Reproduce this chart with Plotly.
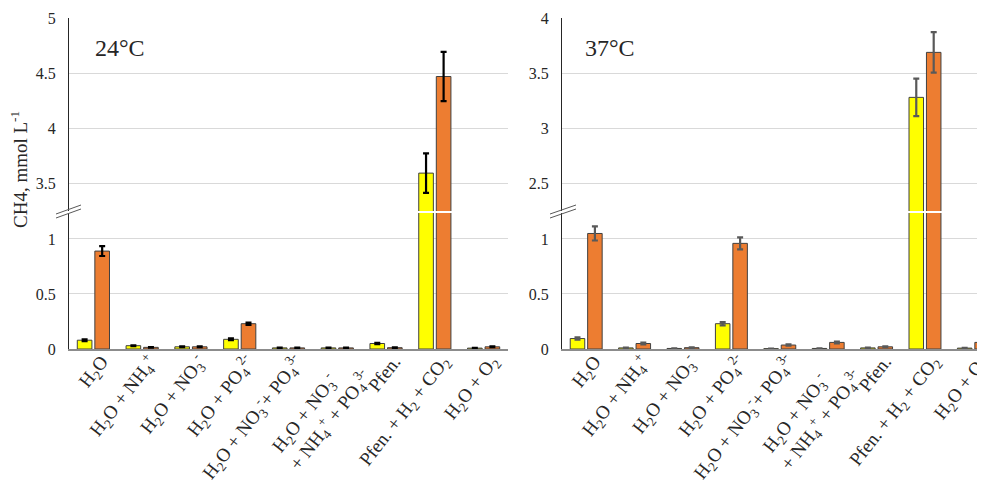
import plotly.graph_objects as go

# ---------------- data ----------------
NB = "\u00a0"
categories = [
    "H<sub>2</sub>O",
    "H<sub>2</sub>O + NH<sub>4</sub><sup>+</sup>",
    "H<sub>2</sub>O + NO<sub>3</sub><sup>-</sup>",
    "H<sub>2</sub>O + PO<sub>4</sub><sup>2-</sup>",
    "H<sub>2</sub>O + NO<sub>3</sub><sup>-</sup>+ PO<sub>4</sub><sup>3-</sup>",
    "H<sub>2</sub>O + NO<sub>3</sub><sup>-</sup>" + NB * 5 + "<br>+ NH<sub>4</sub><sup>+</sup> + PO<sub>4</sub><sup>3-</sup>",
    "Pfen.",
    "Pfen. + H<sub>2</sub> + CO<sub>2</sub>",
    "H<sub>2</sub>O + O<sub>2</sub>",
]

y24_yellow = [0.08, 0.03, 0.02, 0.088, 0.01, 0.01, 0.05, 3.59, 0.008]
e24_yellow = [0.008, 0.004, 0.003, 0.008, 0.002, 0.002, 0.005, 0.18, 0.002]
y24_orange = [0.89, 0.015, 0.02, 0.23, 0.01, 0.01, 0.012, 4.47, 0.02]
e24_orange = [0.045, 0.003, 0.004, 0.01, 0.002, 0.002, 0.003, 0.225, 0.004]

y37_yellow = [0.095, 0.01, 0.005, 0.23, 0.003, 0.005, 0.01, 3.28, 0.008]
e37_yellow = [0.01, 0.003, 0.002, 0.015, 0.001, 0.002, 0.003, 0.17, 0.002]
y37_orange = [1.05, 0.05, 0.012, 0.96, 0.036, 0.06, 0.02, 3.69, 0.06]
e37_orange = [0.064, 0.008, 0.003, 0.055, 0.006, 0.008, 0.004, 0.185, 0.008]

panel_titles = ["24°C", "37°C"]
y_title = "CH4, mmol L<sup>-1</sup>"

# ---------------- layout geometry ----------------
# the page body adds an 8px margin, so the figure is drawn from screen (8, 8)
OFF = 8
W, H = 985 - OFF, 481 - OFF
FONT = "Liberation Serif"
YELLOW = "#FFFF00"
ORANGE = "#ED7D31"
OUTLINE = "#404040"

def px_x(p):
    return (p - OFF) / W

def px_y(p):
    return (481 - p) / H

x = list(range(len(categories)))
fig = go.Figure()

panels = [
    dict(xa="x", ylo="y", yhi="y3", yel=(y24_yellow, e24_yellow), ora=(y24_orange, e24_orange), ecol="#000000"),
    dict(xa="x2", ylo="y2", yhi="y4", yel=(y37_yellow, e37_yellow), ora=(y37_orange, e37_orange), ecol="#595959"),
]

for p in panels:
    for ya in (p["ylo"], p["yhi"]):
        for (vals, errs), col, off in ((p["yel"], YELLOW, -0.33), (p["ora"], ORANGE, 0.03)):
            fig.add_trace(go.Bar(
                x=x, y=vals, xaxis=p["xa"], yaxis=ya,
                width=0.30, offset=off,
                marker=dict(color=col, line=dict(color=OUTLINE, width=1)),
                error_y=dict(type="data", array=errs, visible=True,
                             color=p["ecol"], thickness=2.2, width=3),
                showlegend=False, hoverinfo="y",
            ))

lo_dom = [px_y(349), px_y(213)]
hi_dom = [px_y(211), px_y(18)]

xcommon = dict(tickvals=x, ticktext=categories, tickangle=-52, showline=True,
               linecolor="#8c8c8c", linewidth=1.5, showgrid=False, zeroline=False,
               ticks="", tickfont=dict(family=FONT, size=19, color="#262626"),
               ticklabelshift=8, ticklabelstandoff=-8,
               ticklabeloverflow="allow", automargin=False, fixedrange=True)
ycommon = dict(showline=True, linecolor="#262626", linewidth=1.3, showgrid=True,
               gridcolor="#d9d9d9", gridwidth=1, zeroline=False, ticks="",
               tickfont=dict(family=FONT, size=16, color="#262626"),
               ticklabelstandoff=9, automargin=False, fixedrange=True)

fig.update_layout(
    width=W, height=H,
    margin=dict(l=0, r=0, t=0, b=0),
    paper_bgcolor="white", plot_bgcolor="white",
    barmode="overlay", showlegend=False,
    font=dict(family=FONT, color="#262626"),
    xaxis=dict(domain=[px_x(69), px_x(508)], range=[-0.5, 8.5], anchor="y", **xcommon),
    xaxis2=dict(domain=[px_x(562), 1.0], range=[-0.5, 8.24], anchor="y2", **xcommon),
    yaxis=dict(domain=lo_dom, range=[0, 1.236], tickvals=[0, 0.5, 1], anchor="x", **ycommon),
    yaxis3=dict(domain=hi_dom, range=[3.245, 5.003], tickvals=[3.5, 4, 4.5, 5], anchor="x", **ycommon),
    yaxis2=dict(domain=lo_dom, range=[0, 1.236], tickvals=[0, 0.5, 1], anchor="x2", **ycommon),
    yaxis4=dict(domain=hi_dom, range=[2.245, 4.003], tickvals=[2.5, 3, 3.5, 4], anchor="x2", **ycommon),
)

# panel titles
for t, xp in zip(panel_titles, (93, 583)):
    fig.add_annotation(text=t, xref="paper", yref="paper", x=px_x(xp), y=px_y(48),
                       xanchor="left", yanchor="middle", showarrow=False,
                       font=dict(family=FONT, size=24, color="#262626"))

# y-axis title
fig.add_annotation(text=y_title, xref="paper", yref="paper", x=px_x(19), y=px_y(170),
                   xanchor="center", yanchor="middle", textangle=-90, showarrow=False,
                   font=dict(family=FONT, size=19, color="#262626"))

# axis break marks
for x0, x1, yb in ((56, 81, 214), (550, 576, 214)):
    for dy in (0, 4):
        fig.add_shape(type="line", xref="paper", yref="paper",
                      x0=px_x(x0), x1=px_x(x1), y0=px_y(yb + dy), y1=px_y(yb + dy - 9),
                      line=dict(color="#595959", width=1))

fig.write_html("out.html")
